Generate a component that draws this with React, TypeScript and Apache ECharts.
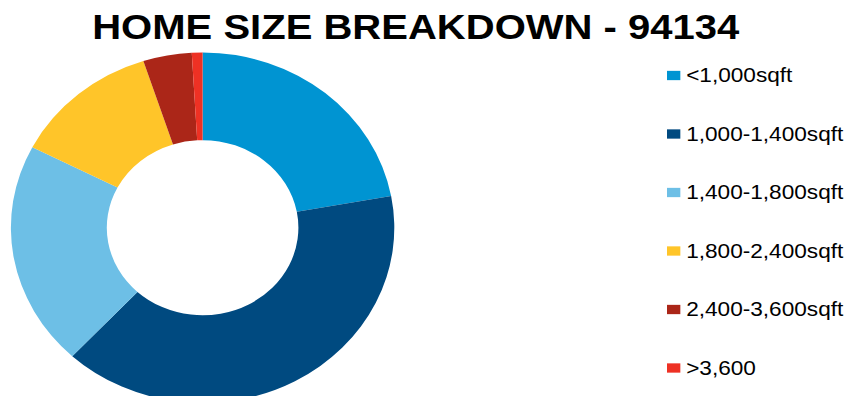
import React, { useEffect, useRef } from "react";
import * as echarts from "echarts";

const TITLE = "HOME SIZE BREAKDOWN - 94134";
const categories = [
  "<1,000sqft",
  "1,000-1,400sqft",
  "1,400-1,800sqft",
  "1,800-2,400sqft",
  "2,400-3,600sqft",
  ">3,600",
];
const shares = [22.1, 39.8, 20.7, 12.4, 4.1, 0.9];

const PALETTE = ["#0094D2", "#004A80", "#6DBFE6", "#FFC529", "#AB2618", "#EE3124"];
const FONT = "'Liberation Sans', Arial, sans-serif";
const PIE_SY = 0.914;
const TEXT_SX = 1.16;

export default function App() {
  const pieRef = useRef<HTMLDivElement>(null);
  const textRef = useRef<HTMLDivElement>(null);

  useEffect(() => {
    document.body.style.margin = "0";
    const data = categories.map((name, i) => ({ name, value: shares[i] }));

    const pie = echarts.init(pieRef.current!, null, { renderer: "svg" });
    pie.setOption({
      animation: false,
      color: PALETTE,
      series: [
        {
          type: "pie",
          center: [202.6, 227.7 / PIE_SY],
          radius: [95.8, 191.7],
          startAngle: 90,
          clockwise: true,
          label: { show: false },
          labelLine: { show: false },
          itemStyle: { borderWidth: 0 },
          emphasis: { disabled: true },
          data,
        },
      ],
    });

    const txt = echarts.init(textRef.current!, null, { renderer: "svg" });
    txt.setOption({
      animation: false,
      color: PALETTE,
      title: {
        text: TITLE,
        left: 74.5,
        top: 4,
        textStyle: { fontFamily: FONT, fontWeight: "bold", fontSize: 34.5, color: "#000" },
      },
      legend: {
        orient: "vertical",
        left: 570,
        top: 60.5,
        icon: "rect",
        itemWidth: 11.5,
        itemHeight: 9.3,
        itemGap: 38.5,
        selectedMode: false,
        textStyle: { fontFamily: FONT, fontSize: 19.5, color: "#000" },
        data: categories,
      },
      series: [
        {
          type: "pie",
          center: [-100, -100],
          radius: 1,
          silent: true,
          label: { show: false },
          labelLine: { show: false },
          data,
        },
      ],
    });

    return () => {
      pie.dispose();
      txt.dispose();
    };
  }, []);

  return (
    <div style={{ position: "relative", width: 846, height: 396, overflow: "hidden", background: "#fff" }}>
      <div
        ref={pieRef}
        style={{
          position: "absolute",
          left: 0,
          top: 0,
          width: 846,
          height: Math.ceil(396 / PIE_SY),
          transform: `scaleY(${PIE_SY})`,
          transformOrigin: "0 0",
        }}
      />
      <div
        ref={textRef}
        style={{
          position: "absolute",
          left: 0,
          top: 0,
          width: 729,
          height: 396,
          transform: `scaleX(${TEXT_SX})`,
          transformOrigin: "0 0",
        }}
      />
    </div>
  );
}
